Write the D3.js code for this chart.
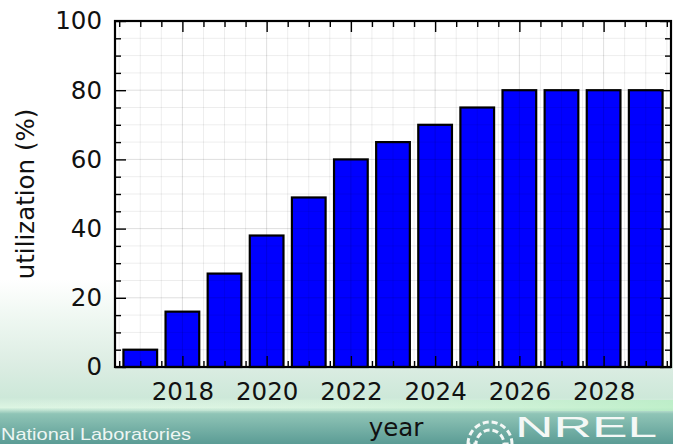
<!DOCTYPE html>
<html><head><meta charset="utf-8">
<script src="https://cdn.jsdelivr.net/npm/d3@7/dist/d3.min.js"></script>
<style>html,body{margin:0;padding:0;background:#fff;overflow:hidden}</style>
</head><body>
<svg id="chart" width="673" height="444"></svg>
<script>
const years = [2017,2018,2019,2020,2021,2022,2023,2024,2025,2026,2027,2028,2029];
const utilization = [5,16,27,38,49,60,65,70,75,80,80,80,80];
const xTickLabels = [2018,2020,2022,2024,2026,2028];
const yTickLabels = [0,20,40,60,80,100];
const xLabel = "year";
const yLabel = "utilization (%)";

const W = 673, H = 444;
const svg = d3.select("#chart");
const FONT = "DejaVu Sans, sans-serif";

// background watermark gradient
const defs = svg.append("defs");
const g1 = defs.append("linearGradient").attr("id","bg").attr("x1",0).attr("y1",0).attr("x2",0).attr("y2",1);
[[0,"#ffffff"],[0.63,"#ffffff"],[0.72,"#eef7f1"],[0.82,"#dcede3"],[0.895,"#cde8d9"],[0.918,"#dcf5e2"],[0.932,"#8fc4b6"],[1,"#5b9c95"]]
  .forEach(([o,c])=>g1.append("stop").attr("offset",o).attr("stop-color",c));
svg.append("rect").attr("width",W).attr("height",H).attr("fill","url(#bg)");
const g2 = defs.append("linearGradient").attr("id","streak").attr("x1",0).attr("y1",0).attr("x2",1).attr("y2",0);
[[0,"#e8f6ee",0],[0.5,"#d2f2da",0.4],[1,"#b8eec4",0.8]]
  .forEach(([o,c,a])=>g2.append("stop").attr("offset",o).attr("stop-color",c).attr("stop-opacity",a));
svg.append("rect").attr("x",0).attr("y",400).attr("width",W).attr("height",11).attr("fill","url(#streak)");

// watermark texts
svg.append("text").attr("x",1).attr("y",440).attr("fill","#eef6f3")
  .attr("font-family","Liberation Sans, sans-serif").attr("font-size",17)
  .attr("textLength",190).attr("lengthAdjust","spacingAndGlyphs")
  .text("National Laboratories");
svg.append("text").attr("x",515).attr("y",437).attr("fill","#f4f8f6")
  .attr("font-family","Liberation Sans, sans-serif").attr("font-size",30)
  .attr("textLength",142).attr("lengthAdjust","spacingAndGlyphs")
  .text("NREL");
const arc = d3.arc();
svg.append("path").attr("transform","translate(490,444)")
  .attr("d", arc({innerRadius:14, outerRadius:22, startAngle:-Math.PI/2, endAngle:Math.PI/2}))
  .attr("fill","none").attr("stroke","#f4f8f6").attr("stroke-width",3).attr("stroke-dasharray","6 3");

// plot area
const x = d3.scaleLinear().domain([2016.4, 2029.6]).range([115, 671]);
const y = d3.scaleLinear().domain([0, 100]).range([367, 21]);
const [x0,x1] = x.range(), [y0,y1] = y.range();

svg.append("rect").attr("x",x0).attr("y",y1).attr("width",x1-x0).attr("height",y0-y1).attr("fill","#fff");

// bars
const bw = 0.8;
svg.append("g").selectAll("rect").data(years).join("rect")
  .attr("x", (d)=>x(d-bw/2))
  .attr("y", (d,i)=>y(utilization[i]))
  .attr("width", x(2017+bw)-x(2017))
  .attr("height", (d,i)=>y(0)-y(utilization[i]))
  .attr("fill","#0000ff").attr("stroke","#000").attr("stroke-width",2.2);

// grid (drawn above bars, translucent)
const xMinor = d3.range(2016.5, 2029.6, 0.5);
const yMinor = d3.range(5, 100, 5);
const grid = svg.append("g");
grid.selectAll(".gx").data(xMinor).join("line")
  .attr("x1",d=>x(d)).attr("x2",d=>x(d)).attr("y1",y1).attr("y2",y0)
  .attr("stroke","#000").attr("stroke-opacity",d=>xTickLabels.includes(d)?0.13:0.07).attr("stroke-width",1);
grid.selectAll(".gy").data(yMinor).join("line")
  .attr("y1",d=>y(d)).attr("y2",d=>y(d)).attr("x1",x0).attr("x2",x1)
  .attr("stroke","#000").attr("stroke-opacity",d=>yTickLabels.includes(d)?0.13:0.07).attr("stroke-width",1);

// axes
const tickStyle = (g)=>{ g.select(".domain").remove(); g.selectAll("line").attr("stroke","#000").attr("stroke-width",1.4); g.selectAll("text").attr("font-family",FONT).attr("font-size",24.5).attr("fill","#111"); };
const xMinorTicks = xMinor.filter(d=>!xTickLabels.includes(d));
const yMinorTicks = yMinor.filter(d=>!yTickLabels.includes(d));

svg.append("g").attr("transform",`translate(0,${y0})`)
  .call(d3.axisBottom(x).tickValues(xTickLabels).tickFormat(d3.format("d")).tickSize(-11).tickPadding(15.5)).call(tickStyle);
svg.append("g").attr("transform",`translate(0,${y0})`)
  .call(d3.axisBottom(x).tickValues(xMinorTicks).tickFormat("").tickSize(-6)).call(tickStyle);
svg.append("g").attr("transform",`translate(0,${y1})`)
  .call(d3.axisTop(x).tickValues(xTickLabels).tickFormat("").tickSize(-11)).call(tickStyle);
svg.append("g").attr("transform",`translate(0,${y1})`)
  .call(d3.axisTop(x).tickValues(xMinorTicks).tickFormat("").tickSize(-6)).call(tickStyle);
svg.append("g").attr("transform",`translate(${x0},0)`)
  .call(d3.axisLeft(y).tickValues(yTickLabels).tickFormat(d3.format("d")).tickSize(-11).tickPadding(13)).call(tickStyle);
svg.append("g").attr("transform",`translate(${x0},0)`)
  .call(d3.axisLeft(y).tickValues(yMinorTicks).tickFormat("").tickSize(-6)).call(tickStyle);
svg.append("g").attr("transform",`translate(${x1},0)`)
  .call(d3.axisRight(y).tickValues(yTickLabels).tickFormat("").tickSize(-11)).call(tickStyle);
svg.append("g").attr("transform",`translate(${x1},0)`)
  .call(d3.axisRight(y).tickValues(yMinorTicks).tickFormat("").tickSize(-6)).call(tickStyle);

// spines
svg.append("rect").attr("x",x0).attr("y",y1).attr("width",x1-x0).attr("height",y0-y1)
  .attr("fill","none").attr("stroke","#000").attr("stroke-width",2.2);

// axis labels
svg.append("text").attr("x",396).attr("y",436).attr("text-anchor","middle")
  .attr("font-family",FONT).attr("font-size",24.5).attr("fill","#111").text(xLabel);
svg.append("text").attr("transform",`translate(34,${(y0+y1)/2})rotate(-90)`).attr("text-anchor","middle")
  .attr("font-family",FONT).attr("font-size",24.5).attr("fill","#111").text(yLabel);
</script>
</body></html>
